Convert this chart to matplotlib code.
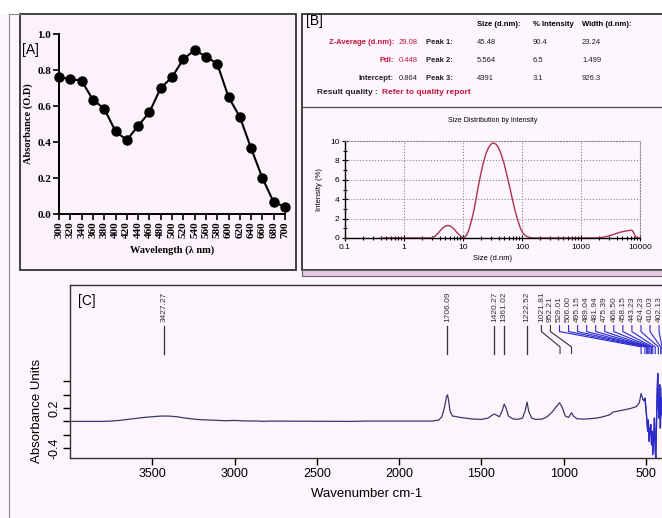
import numpy as np
import matplotlib
matplotlib.use('Agg')
import matplotlib.pyplot as plt
from matplotlib.patches import Rectangle
from matplotlib.ticker import NullFormatter, FixedLocator

# ----- [A] UV-vis absorbance -----
wavelength = [300, 320, 340, 360, 380, 400, 420, 440, 460, 480, 500,
              520, 540, 560, 580, 600, 620, 640, 660, 680, 700]
absorbance = [0.76, 0.75, 0.74, 0.635, 0.585, 0.46, 0.41, 0.49, 0.565, 0.70, 0.76,
              0.86, 0.91, 0.875, 0.835, 0.65, 0.54, 0.365, 0.20, 0.065, 0.04]

# ----- [B] DLS table + size distribution -----
tbl_head = ['Size (d.nm):', '% Intensity', 'Width (d.nm):']
tbl_left_lbl = ['Z-Average (d.nm):', 'PdI:', 'Intercept:']
tbl_left_val = ['29.08', '0.448', '0.864']
tbl_peaks = ['Peak 1:', 'Peak 2:', 'Peak 3:']
tbl_size = ['45.48', '5.564', '4391']
tbl_int = ['90.4', '6.5', '3.1']
tbl_width = ['23.24', '1.499', '926.3']

dls_size = [0.4, 0.6, 1.0, 2.0, 2.9, 3.3, 3.8, 4.3, 4.9, 5.5, 6.2, 7.0, 7.8, 8.7, 9.7,
            10.5, 11.5, 12.5, 13.5, 15, 16.5, 18, 20, 22, 24.5, 27, 30, 33, 36.5, 40,
            44, 49, 54, 60, 67, 75, 84, 94, 105, 120, 140, 160, 300, 1000, 1800,
            2200, 2700, 3300, 4000, 4800, 5800, 6800, 7400, 8000, 8700, 10000]
dls_int = [0, 0, 0, 0, 0, 0.15, 0.5, 0.9, 1.2, 1.3, 1.22, 0.95, 0.6, 0.3, 0.08,
           0.05, 0.3, 0.8, 1.5, 2.6, 3.9, 5.2, 6.6, 7.7, 8.7, 9.3, 9.7, 9.8, 9.65, 9.3,
           8.7, 7.8, 6.8, 5.6, 4.3, 3.0, 1.9, 1.0, 0.45, 0.15, 0.03, 0, 0, 0, 0,
           0.05, 0.15, 0.3, 0.48, 0.62, 0.72, 0.8, 0.78, 0.4, 0, 0]

# ----- [C] FTIR -----
ftir_wn = [4000, 3800, 3750, 3700, 3650, 3600, 3550, 3500, 3450, 3400, 3350, 3300, 3250,
           3200, 3150, 3100, 3050, 3000, 2950, 2850, 2820, 2800, 2500, 2300, 2200, 2000,
           1800, 1760, 1740, 1725, 1712, 1706, 1700, 1690, 1675, 1660, 1640, 1600, 1550,
           1500, 1460, 1430, 1420, 1405, 1390, 1375, 1361, 1350, 1335, 1310, 1280, 1250,
           1235, 1222, 1212, 1195, 1170, 1130, 1100, 1070, 1045, 1025, 1010, 990, 970,
           952, 940, 920, 880, 840, 800, 760, 720, 700, 680, 640, 600, 560, 540, 529,
           518, 510, 506, 500, 495, 489, 485, 481, 475, 470, 466, 462, 458, 452, 448,
           443, 440, 436, 432, 428, 424, 420, 416, 412, 408, 404, 400]
ftir_abs = [0.0, 0.0, 0.005, 0.015, 0.03, 0.045, 0.06, 0.07, 0.08, 0.08, 0.07, 0.05, 0.035,
            0.025, 0.02, 0.015, 0.01, 0.015, 0.008, 0.005, 0.0, 0.005, 0.002, 0.0, 0.005, 0.005,
            0.005, 0.02, 0.07, 0.2, 0.37, 0.4, 0.33, 0.15, 0.08, 0.075, 0.065, 0.05, 0.035,
            0.03, 0.05, 0.1, 0.11, 0.09, 0.07, 0.15, 0.26, 0.2, 0.08, 0.04, 0.03, 0.05,
            0.15, 0.29, 0.15, 0.05, 0.03, 0.035, 0.07, 0.14, 0.22, 0.28, 0.22, 0.08, 0.06,
            0.13, 0.08, 0.04, 0.035, 0.04, 0.05, 0.07, 0.1, 0.14, 0.15, 0.17, 0.19, 0.22, 0.28, 0.42,
            0.33, 0.31, 0.35, 0.2, 0.05, -0.15, 0.02, -0.3, -0.12, -0.05, -0.35, -0.15, -0.5, -0.2, 0.05,
            -0.45, -0.55, -0.1, 0.4, 0.72, 0.2, 0.05, 0.55, -0.1, 0.35, 0.1, 0.5]
peak_wn = [3427.27, 1706.09, 1420.27, 1361.02, 1222.52, 1021.81, 952.21, 529.01, 506.00,
           495.15, 489.04, 481.94, 475.39, 466.50, 458.15, 443.23, 424.23, 410.03, 402.13]

W, H = 662, 518
BG = '#fcf5fb'
fig = plt.figure(figsize=(W / 100, H / 100), dpi=100, facecolor=BG)

def ax_px(l, t, r, b, **kw):
    return fig.add_axes([l / W, 1 - b / H, (r - l) / W, (b - t) / H], **kw)

# overlay for boxes and free text, in pixel coords
bg = fig.add_axes([0, 0, 1, 1], zorder=0)
bg.set_xlim(0, W); bg.set_ylim(H, 0); bg.axis('off')
bg.add_patch(Rectangle((0, 0), W, 14, facecolor='white', edgecolor='none'))
bg.add_patch(Rectangle((20, 14), 276, 256, facecolor='#fcf3fa', edgecolor='#333', lw=1.3))
bg.add_patch(Rectangle((302, 14), 370, 256, facecolor='#fdf6fc', edgecolor='#333', lw=1.3))
bg.plot([302, 662], [107, 107], color='#555', lw=1.0)
bg.add_patch(Rectangle((302, 270), 370, 6, facecolor='#e9c9e6', edgecolor='#666', lw=0.8))
bg.plot([8.5, 8.5], [14, 518], color='#888', lw=0.8)
bg.plot([8.5, 20], [14, 14], color='#888', lw=0.8)

sans = ['Liberation Sans', 'DejaVu Sans']
narrow = ['Liberation Sans Narrow', 'Liberation Sans', 'DejaVu Sans']
serif = ['Liberation Serif', 'DejaVu Serif']
red = '#c4163e'

bg.text(22, 50, '[A]', fontsize=10, family=sans, va='center', ha='left')
bg.text(306, 21, '[B]', fontsize=10, family=sans, va='center', ha='left')
bg.text(78, 301, '[C]', fontsize=10, family=sans, va='center', ha='left')

# table in B
tkw = dict(fontsize=5.5, family=narrow, fontweight='bold', va='center')
for x, s in zip([477, 533, 582], tbl_head):
    bg.text(x, 25, s, ha='left', **tkw)
for i, y in enumerate([42, 60, 78]):
    c = red if i < 2 else '#222'
    bg.text(394, y, tbl_left_lbl[i], ha='right', color=c, **tkw)
    bg.text(399, y, tbl_left_val[i], ha='left', color=c, fontsize=5.5, family=narrow, va='center')
    bg.text(453, y, tbl_peaks[i], ha='right', color='#222', **tkw)
    for x, s in zip([477, 533, 582], [tbl_size[i], tbl_int[i], tbl_width[i]]):
        bg.text(x, y, s, ha='left', color='#222', fontsize=5.5, family=narrow, va='center')
bg.text(378, 93, 'Result quality :', ha='right', color='#222', fontsize=6, family=narrow,
        fontweight='bold', va='center')
bg.text(382, 93, 'Refer to quality report', ha='left', color=red, fontsize=6, family=narrow,
        fontweight='bold', va='center')

# ----- panel A -----
axA = ax_px(59, 34, 285, 214, zorder=2)
axA.set_facecolor('none')
axA.plot(wavelength, absorbance, color='black', lw=1.5, marker='o', ms=6.5, clip_on=False)
axA.set_xlim(300, 700); axA.set_ylim(0, 1.0)
axA.set_xticks(wavelength)
axA.set_yticks(np.arange(0, 1.01, 0.2))
axA.set_yticklabels(['%.1f' % v for v in np.arange(0, 1.01, 0.2)])
for s in ['top', 'right']:
    axA.spines[s].set_visible(False)
for s in ['left', 'bottom']:
    axA.spines[s].set_linewidth(1.4)
axA.tick_params(direction='out', length=4, width=1.2, pad=1.5)
for lab in axA.get_xticklabels():
    lab.set_rotation(90); lab.set_fontsize(8); lab.set_family(serif); lab.set_fontweight('bold')
for lab in axA.get_yticklabels():
    lab.set_fontsize(8); lab.set_family(serif); lab.set_fontweight('bold')
axA.set_ylabel('Absorbance (O.D)', fontsize=7.5, family=serif, fontweight='bold', labelpad=3)
axA.set_xlabel('Wavelength (λ nm)', fontsize=7.5, family=serif, fontweight='bold', labelpad=5)

# ----- panel B plot -----
axB = ax_px(345, 141, 640, 238, zorder=2)
axB.set_facecolor('none')
axB.plot(dls_size, dls_int, color='#b03050', lw=1.0)
axB.set_xscale('log')
axB.set_xlim(0.1, 10000); axB.set_ylim(0, 10)
axB.set_xticks([0.1, 1, 10, 100, 1000, 10000])
axB.set_xticklabels(['0.1', '1', '10', '100', '1000', '10000'])
axB.xaxis.set_minor_formatter(NullFormatter())
axB.set_yticks([0, 2, 4, 6, 8, 10])
axB.yaxis.set_minor_locator(FixedLocator([1, 3, 5, 7, 9]))
axB.grid(True, which='major', linestyle=':', color='#888', lw=0.8)
for s in ['top', 'right']:
    axB.spines[s].set_linestyle(':'); axB.spines[s].set_color('#888')
for s in ['left', 'bottom']:
    axB.spines[s].set_linewidth(1.0)
axB.tick_params(which='major', direction='inout', length=4, width=0.8, labelsize=6, pad=2)
axB.tick_params(which='minor', direction='inout', length=2.5, width=0.8)
for lab in axB.get_xticklabels() + axB.get_yticklabels():
    lab.set_family(narrow)
axB.set_title('Size Distribution by Intensity', fontsize=5, family=narrow, pad=14)
axB.set_xlabel('Size (d.nm)', fontsize=5.5, family=narrow, labelpad=3)
axB.set_ylabel('Intensity (%)', fontsize=5.5, family=narrow, labelpad=5)

# ----- panel C -----
axC = ax_px(70, 285, 664, 458, zorder=2)
axC.set_facecolor('none')
wn = np.array(ftir_wn); ab = np.array(ftir_abs)
axC.plot(wn, ab, color='#3a3a6a', lw=0.9)
noisy = wn <= 520
axC.plot(wn[noisy], ab[noisy], color='#2a2ad0', lw=0.9)
axC.set_xlim(4000, 390)
axC.set_ylim(-0.55, 2.05)
axC.set_xticks([3500, 3000, 2500, 2000, 1500, 1000, 500])
axC.set_yticks([-0.4, -0.2, 0, 0.2, 0.4, 0.6])
axC.set_yticklabels(['-0.4', '', '', '0.2', '', ''], rotation=90, va='center')
axC.tick_params(direction='out', length=5, width=1.0, labelsize=9, pad=2)
for lab in axC.get_xticklabels() + axC.get_yticklabels():
    lab.set_family(sans)
for s in axC.spines.values():
    s.set_linewidth(1.0); s.set_color('#333')
axC.set_ylabel('Absorbance Units', fontsize=9.5, family=sans, labelpad=4, y=0.27)
axC.set_xlabel('Wavenumber cm-1', fontsize=9.5, family=sans, labelpad=6)

# peak labels, spread out where crowded (layout like the instrument software)
gap = 55
prev = 420 - gap
lab_pos = {}
for p in sorted(peak_wn):
    q = max(p, prev + gap)
    lab_pos[p] = q
    prev = q
for p in peak_wn:
    q = lab_pos[p]
    axC.text(q, 1.49, '%.2f' % p, rotation=90, ha='center', va='bottom', fontsize=6,
             family=sans, color='#333', clip_on=True)
    if abs(q - p) < 1:
        axC.plot([p, p], [1.44, 1.02], color='#333', lw=0.9)
    else:
        col = '#333' if p > 900 else '#2a2ad0'
        axC.plot([q, q, p, p], [1.44, 1.35, 1.12, 1.02], color=col, lw=0.8)

fig.savefig('out.png', dpi=100, facecolor=BG)
